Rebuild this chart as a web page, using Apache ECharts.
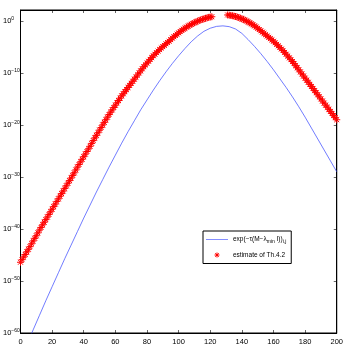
<!DOCTYPE html>
<html>
<head>
<meta charset="utf-8">
<script src="https://cdn.jsdelivr.net/npm/echarts@6/dist/echarts.min.js"></script>
<style>
html,body{margin:0;padding:0;background:#fff}
#chart{width:346px;height:346px}
</style>
</head>
<body>
<div id="chart"></div>
<script>
// exact entries: x index and log10 of value (blue line)
var exactX = [0,4,8,12,16,20,24,28,32,36,40,44,48,52,56,60,64,68,72,76,80,84,88,92,96,100,
              104,108,112,116,120,124,128,132,136,140,144,148,152,156,160,164,168,172,176,180,184,188,192,196,200];
var exactLog = [-65.0,-62.2,-59.4,-56.6,-53.8,-51.1,-48.4,-45.7,-43.1,-40.5,-37.9,-35.4,-32.9,-30.5,-28.1,-25.8,
                -23.5,-21.3,-19.2,-17.1,-15.2,-13.3,-11.5,-9.8,-8.2,-6.7,-5.3,-4.0,-2.9,-2.0,-1.4,-1.05,-0.95,
                -1.1,-1.55,-2.4,-3.6,-4.9,-6.3,-7.8,-9.4,-11.1,-12.8,-14.6,-16.5,-18.5,-20.6,-22.7,-24.8,-26.9,-29.0];

// estimate of Th.4.2 (red stars), log10 of value
var estX = [
  0,1,2,3,4,5,6,7,8,9,10,11,12,13,14,15,16,17,18,19,20,21,22,23,24,25,26,27,28,29,
  30,31,32,33,34,35,36,37,38,39,40,41,42,43,44,45,46,47,48,49,50,51,52,53,54,55,56,57,58,59,
  60,61,62,63,64,65,66,67,68,69,70,71,72,73,74,75,76,77,78,79,80,81,82,83,84,85,86,87,88,89,
  90,91,92,93,94,95,96,97,98,99,100,101,102,103,104,105,106,107,108,109,110,111,112,113,114,115,116,117,118,119,120,121,
  131,132,133,134,135,136,137,138,139,140,141,142,143,144,145,146,147,148,149,150,
  151,152,153,154,155,156,157,158,159,160,161,162,163,164,165,166,167,168,169,170,
  171,172,173,174,175,176,177,178,179,180,181,182,183,184,185,186,187,188,189,190,
  191,192,193,194,195,196,197,198,199,200];
var estLog = [
  -46.4,-45.9,-45.4,-44.9,-44.4,-43.9,-43.4,-42.85,-42.3,-41.8,-41.3,-40.75,-40.2,-39.7,-39.2,-38.7,-38.2,-37.7,-37.2,-36.7,
  -36.2,-35.7,-35.2,-34.7,-34.2,-33.7,-33.2,-32.7,-32.2,-31.7,
  -31.2,-30.7,-30.2,-29.7,-29.2,-28.65,-28.1,-27.6,-27.1,-26.6,-26.1,-25.6,-25.1,-24.6,-24.1,-23.55,-23.0,-22.5,-22.0,-21.5,
  -21.0,-20.5,-20.0,-19.5,-19.0,-18.5,-18.0,-17.55,-17.1,-16.65,
  -16.2,-15.75,-15.3,-14.85,-14.4,-14.0,-13.6,-13.2,-12.8,-12.4,-12.0,-11.6,-11.2,-10.8,-10.4,-10.0,-9.6,-9.2,-8.8,-8.45,
  -8.1,-7.75,-7.4,-7.05,-6.7,-6.4,-6.1,-5.8,-5.5,-5.2,
  -4.95,-4.7,-4.4,-4.15,-3.9,-3.6,-3.3,-3.05,-2.8,-2.55,-2.3,-2.05,-1.8,-1.6,-1.4,-1.2,-1.0,-0.82,-0.65,-0.5,
  -0.35,-0.2,-0.05,0.08,0.2,0.3,0.4,0.5,0.6,0.68,0.75,0.8,
  1.15,1.1,1.05,1.0,0.93,0.85,0.75,0.65,0.53,0.4,0.28,0.15,-0.02,-0.2,-0.37,-0.55,-0.75,-0.95,-1.17,-1.4,
  -1.65,-1.9,-2.15,-2.4,-2.65,-2.9,-3.15,-3.4,-3.65,-3.9,-4.2,-4.5,-4.8,-5.1,-5.4,-5.7,-6.05,-6.4,-6.75,-7.1,
  -7.45,-7.8,-8.2,-8.6,-9.0,-9.4,-9.8,-10.2,-10.6,-11.0,-11.4,-11.8,-12.2,-12.6,-13.0,-13.4,-13.8,-14.2,-14.6,-15.0,
  -15.4,-15.8,-16.2,-16.6,-17.0,-17.4,-17.8,-18.2,-18.6,-19.0];

var exactName = 'exact';
var estName = 'estimate of Th.4.2';

function pairs(xs, ls) {
  return xs.map(function (x, i) { return [x, ls[i]]; });
}

var font = 'Liberation Sans';
var star = 'path://M5,0L5,10M0,5L10,5M1.5,1.5L8.5,8.5M8.5,1.5L1.5,8.5';
var tick = {inside: true, length: 3, lineStyle: {color: '#000', width: 0.6}};
var line = {show: true, onZero: false, lineStyle: {color: '#000', width: 1}};

var chart = echarts.init(document.getElementById('chart'));

var option = {
  animation: false,
  textStyle: {fontFamily: font},
  grid: {left: 18.5, right: 8.5, top: 10, bottom: 12, show: true, borderColor: '#000', borderWidth: 1, backgroundColor: '#fff'},
  legend: {
    left: 203, top: 231,
    orient: 'vertical',
    backgroundColor: '#fff',
    borderColor: '#000', borderWidth: 1,
    padding: [5, 5, 5, 3],
    itemGap: 7,
    itemWidth: 22, itemHeight: 5,
    textStyle: {
      fontFamily: font, fontSize: 6.5, color: '#000',
      rich: {
        t: {fontSize: 6.5, fontFamily: font},
        sub: {fontSize: 5, fontFamily: font, padding: [5, 0, 0, 0]}
      }
    },
    formatter: function (name) {
      if (name === exactName) return '{t|exp(−τ(M−λ}{sub|min}{t| I))}{sub|i,j}';
      return name;
    },
    data: [
      {name: exactName, icon: 'path://M0,5L22,5L22,5.6L0,5.6Z'},
      {name: estName, icon: star, itemStyle: {color: '#ff0000', borderColor: '#ff0000', borderWidth: 1}}
    ]
  },
  xAxis: [{
    type: 'value', min: 0, max: 200, interval: 20,
    axisLine: line, axisTick: tick,
    axisLabel: {fontSize: 7.5, color: '#000', margin: 5, fontFamily: font},
    splitLine: {show: false}
  }, {
    type: 'value', min: 0, max: 200, interval: 20, position: 'top',
    axisLine: line, axisTick: tick,
    axisLabel: {show: false},
    splitLine: {show: false}
  }],
  yAxis: [{
    // log10 of the value
    type: 'value', min: -60, max: 2.1, interval: 10,
    axisLine: line, axisTick: tick,
    axisLabel: {
      align: 'left', margin: 17.5, color: '#000',
      fontSize: 7.5, fontFamily: font,
      rich: {
        b: {fontSize: 7.5, fontFamily: font, color: '#000'},
        sup: {fontSize: 5, fontFamily: font, color: '#000', padding: [0, 0, 5, 0]}
      },
      formatter: function (v) {
        if (Math.abs(v % 10) > 0.001) return '';
        return '{b|10}{sup|' + (v < 0 ? '−' + (-v) : v) + '}';
      }
    },
    splitLine: {show: false}
  }, {
    type: 'value', min: -60, max: 2.1, interval: 10, position: 'right',
    axisLine: line, axisTick: tick,
    axisLabel: {show: false},
    splitLine: {show: false}
  }],
  series: [{
    name: exactName,
    type: 'line',
    data: pairs(exactX, exactLog),
    showSymbol: false,
    symbol: 'none',
    clip: true,
    lineStyle: {color: '#3344ff', width: 0.7},
    itemStyle: {color: '#3344ff'}
  }, {
    name: estName,
    type: 'scatter',
    data: pairs(estX, estLog),
    symbol: star,
    symbolSize: 7,
    itemStyle: {color: '#ff0000', borderColor: '#ff0000', borderWidth: 1, opacity: 1}
  }]
};

chart.setOption(option);
</script>
</body>
</html>
